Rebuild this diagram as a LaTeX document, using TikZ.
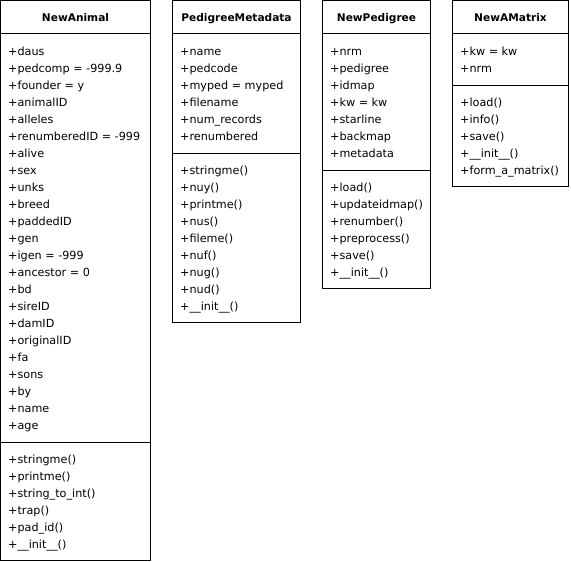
\documentclass[tikz,border=0pt]{standalone}
\usepackage{fontspec}
\setmainfont{DejaVu Sans}
\tikzset{
  member/.style={anchor=base west, inner sep=0pt, font=\fontsize{11.2}{13}\selectfont},
  classtitle/.style={anchor=base, inner sep=0pt, font=\fontsize{10.6}{13}\selectfont\bfseries},
  classbox/.style={draw, line width=1pt, inner sep=0pt, outer sep=0pt, anchor=north west},
  divider/.style={line width=1pt},
}
% #1 name, #2 left, #3 right, #4 title, #5 n attrs, #6 attrs, #7 n methods, #8 methods
\newcommand\umlclass[8]{%
  \pgfmathsetmacro\umlda{55+17*(#5-1)+13}%
  \pgfmathsetmacro\umlbt{\umlda+21.5+17*(#7-1)+12}%
  \pgfmathsetmacro\umlwid{#3-#2}%
  \pgfmathsetmacro\umlhgt{\umlbt-0.5}%
  \node[classbox, minimum width=\umlwid pt, minimum height=\umlhgt pt] (#1) at (#2,0.5) {};
  \node[classtitle] (#1-title) at ({(#2+#3)/2},21) {#4};
  \draw[divider] (#1.west |- 0,33.5) -- (#1.east |- 0,33.5);
  \draw[divider] (#1.west |- 0,\umlda) -- (#1.east |- 0,\umlda);
  \foreach \t [count=\i] in {#6}
    \node[member] (#1-a\i) at ({#2+7.5},{55+17*(\i-1)}) {\t};
  \foreach \t [count=\i] in {#8}
    \node[member] (#1-m\i) at ({#2+7.5},{\umlda+21.5+17*(\i-1)}) {\t};
}
\begin{document}
\begin{tikzpicture}[x=1pt,y=-1pt]
\useasboundingbox (0,0) rectangle (571,562);
\umlclass{animal}{0.5}{150.5}{NewAnimal}{23}{%
  +daus,+pedcomp = -999.9,+founder = y,+animalID,+alleles,+renumberedID = -999,%
  +alive,+sex,+unks,+breed,+paddedID,+gen,+igen = -999,+ancestor = 0,+bd,%
  +sireID,+damID,+originalID,+fa,+sons,+by,+name,+age}{6}{%
  +stringme(),+printme(),+string\_to\_int(),+trap(),+pad\_id(),+\_\_init\_\_()}
\umlclass{meta}{172.5}{300.5}{PedigreeMetadata}{6}{%
  +name,+pedcode,+myped = myped,+filename,+num\_records,+renumbered}{9}{%
  +stringme(),+nuy(),+printme(),+nus(),+fileme(),+nuf(),+nug(),+nud(),+\_\_init\_\_()}
\umlclass{pedigree}{322.5}{430.5}{NewPedigree}{7}{%
  +nrm,+pedigree,+idmap,+kw = kw,+starline,+backmap,+metadata}{6}{%
  +load(),+updateidmap(),+renumber(),+preprocess(),+save(),+\_\_init\_\_()}
\umlclass{amatrix}{452.5}{568.5}{NewAMatrix}{2}{%
  +kw = kw,+nrm}{5}{%
  +load(),+info(),+save(),+\_\_init\_\_(),+form\_a\_matrix()}
\end{tikzpicture}
\end{document}
